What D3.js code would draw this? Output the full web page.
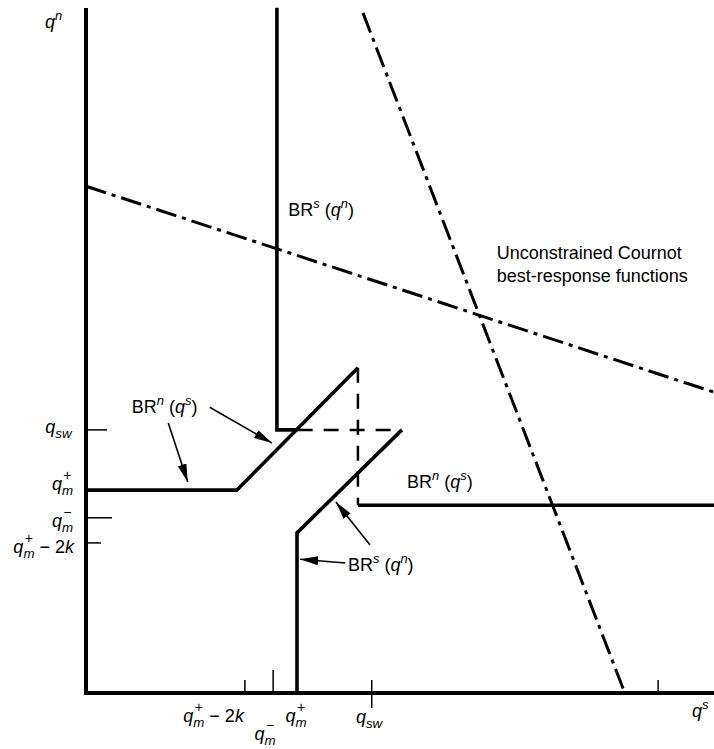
<!DOCTYPE html>
<html>
<head>
<meta charset="utf-8">
<script src="https://cdn.jsdelivr.net/npm/d3@7"></script>
<style>
  body { margin: 0; background: #fff; }
  svg { display: block; }
  text { font-family: "Liberation Sans", Arial, Helvetica, sans-serif; fill: #000; }
</style>
</head>
<body>
<svg id="chart"></svg>
<script>
// quantities, same units on both axes (q^s across, q^n up)
var xTickValues = [25.3, 29.8, 33.6, 45.5, 91.1];
var xTickNames  = ["qm+-2k", "qm-", "qm+", "qsw", ""];
var yTickValues = [41.9, 32.3, 27.9, 23.9];
var yTickNames  = ["qsw", "qm+", "qm-", "qm+-2k"];

// constrained best responses
var brsUpper = [[30.4, 109.1], [30.4, 41.9], [33.7, 41.9]];
var brnLeft  = [[0, 32.3], [24.0, 32.3], [43.3, 51.8]];
var brnRight = [[43.3, 29.9], [100, 29.9]];
var brsLower = [[50.3, 41.9], [33.6, 25.5], [33.6, 0]];
var jumps    = [[[33.7, 41.9], [50.3, 41.9]], [[43.3, 51.8], [43.3, 29.9]]];

// unconstrained cournot best responses
var cournotN = [[0, 80.7], [100, 47.9]];
var cournotS = [[44.1, 108.3], [85.8, 0]];

// pointer arrows (from, to)
var arrows = [
  [[13.1, 43.0], [16.2, 33.6]],
  [[19.7, 45.5], [29.6, 39.8]],
  [[45.2, 23.6], [39.8, 30.4]],
  [[41.3, 20.7], [34.1, 21.3]]
];

var width = 714, height = 749;
var svg = d3.select("#chart").attr("width", width).attr("height", height);

var x = d3.scaleLinear().domain([0, 100]).range([86, 714]);
var y = d3.scaleLinear().domain([0, 109.08]).range([693, 8]);
var line = d3.line().x(function (d) { return x(d[0]); }).y(function (d) { return y(d[1]); });

svg.append("defs").append("marker")
  .attr("id", "head")
  .attr("viewBox", "0 0 18 9")
  .attr("refX", 18).attr("refY", 4.5)
  .attr("markerWidth", 18).attr("markerHeight", 9)
  .attr("markerUnits", "userSpaceOnUse")
  .attr("orient", "auto")
  .append("path").attr("d", "M0,0L18,4.5L0,9Z").attr("fill", "#000");

// label pieces: i = italic, sub/sup, over = sign stacked on previous piece
var rich = {
  "qsw":    [["q", "i"], ["sw", "sub"]],
  "qm+":    [["q", "i"], ["m", "sub"], ["+", "over"]],
  "qm-":    [["q", "i"], ["m", "sub"], ["\u2212", "over"]],
  "qm+-2k": [["q", "i"], ["m", "sub"], ["+", "over"], [" \u2212 2", "n"], ["k", "i"]],
  "qn":     [["q", "i"], ["n", "sup"]],
  "qs":     [["q", "i"], ["s", "sup"]],
  "BRs":    [["BR", "n"], ["s", "sup"], [" (", "n"], ["q", "i"], ["n", "sup"], [")", "n"]],
  "BRn":    [["BR", "n"], ["n", "sup"], [" (", "n"], ["q", "i"], ["s", "sup"], [")", "n"]]
};

function richText(parent, key, px, py, anchor, size) {
  var g = parent.append("g");
  var t = g.append("text").style("font-size", size + "px");
  var shift = 0, prevW = 0, pending = 0;
  rich[key].forEach(function (p) {
    var kind = p[1];
    var s = t.append("tspan").text(p[0]);
    var fs = size, want = 0;
    if (kind == "sub") { fs = size * 0.74; want = 5; }
    if (kind == "sup") { fs = size * 0.72; want = -8; }
    if (kind == "over") { fs = size * 0.78; want = -10; }
    s.style("font-size", fs + "px");
    if (kind != "n" && kind != "over") s.style("font-style", "italic");
    var w = s.node().getComputedTextLength();
    var dx = pending; pending = 0;
    if (kind == "over") { dx += -(prevW + w) / 2; pending = (prevW - w) / 2; }
    if (dx) s.attr("dx", dx);
    if (want - shift) s.attr("dy", want - shift);
    shift = want;
    prevW = w;
  });
  var b = t.node().getBBox();
  var tx = px;
  if (anchor == "end") tx = px - (b.x + b.width);
  if (anchor == "middle") tx = px - (b.x + b.width / 2);
  g.attr("transform", "translate(" + tx + "," + py + ")");
  return g;
}

// cournot lines
[cournotN, cournotS].forEach(function (d) {
  svg.append("path").attr("d", line(d)).attr("fill", "none")
    .attr("stroke", "#000").attr("stroke-width", 3)
    .attr("stroke-dasharray", "21,6,4,6");
});

// jump segments
jumps.forEach(function (d) {
  svg.append("path").attr("d", line(d)).attr("fill", "none")
    .attr("stroke", "#000").attr("stroke-width", 2.5)
    .attr("stroke-dasharray", "15,11");
});

// best responses
[brsUpper, brnLeft, brnRight, brsLower].forEach(function (d) {
  svg.append("path").attr("d", line(d)).attr("fill", "none")
    .attr("stroke", "#000").attr("stroke-width", 3.6)
    .attr("stroke-linejoin", "miter");
});

// axes
svg.append("path").attr("d", line([[0, 109.08], [0, 0], [100, 0]]))
  .attr("fill", "none").attr("stroke", "#000").attr("stroke-width", 4);

// ticks
var xTickUp = [13, 23, 0, 13, 13], xTickDown = [0, 0, 0, 15, 0];
svg.selectAll(".xt").data(xTickValues).enter().append("line")
  .attr("x1", function (d) { return x(d); }).attr("x2", function (d) { return x(d); })
  .attr("y1", function (d, i) { return y(0) - xTickUp[i]; })
  .attr("y2", function (d, i) { return y(0) + xTickDown[i]; })
  .attr("stroke", "#000").attr("stroke-width", 1.5);

var yTickLen = [21, 0, 26, 15];
svg.selectAll(".yt").data(yTickValues).enter().append("line")
  .attr("x1", x(0)).attr("x2", function (d, i) { return x(0) + yTickLen[i]; })
  .attr("y1", function (d) { return y(d); }).attr("y2", function (d) { return y(d); })
  .attr("stroke", "#000").attr("stroke-width", 1.5);

// tick labels
var xLabAnchor = ["end", "middle", "middle", "middle"], xLabDx = [0, -8, -1, -2], xLabY = [722, 740, 722, 723];
xTickNames.forEach(function (n, i) {
  if (!n) return;
  richText(svg, n, x(xTickValues[i]) + xLabDx[i], xLabY[i], xLabAnchor[i], 18);
});
var yLabDy = [3, 0, 9, 10], yLabRight = [73, 73, 73, 75];
yTickNames.forEach(function (n, i) {
  richText(svg, n, yLabRight[i], y(yTickValues[i]) + yLabDy[i], "end", 18);
});

// axis titles
richText(svg, "qn", 45, 28, "start", 18);
richText(svg, "qs", 692, 717, "start", 18);

// curve labels
richText(svg, "BRs", x(32.2), y(76.0), "start", 18);
richText(svg, "BRn", x(7.3), y(44.6), "start", 18);
richText(svg, "BRn", x(51.1), y(32.6), "start", 18);
richText(svg, "BRs", x(41.7), y(19.4), "start", 18);

svg.append("text").attr("x", x(65.4)).attr("y", y(69.1))
  .style("font-size", "18px").text("Unconstrained Cournot");
svg.append("text").attr("x", x(65.4)).attr("y", y(65.4))
  .style("font-size", "18px").text("best-response functions");

// arrows
arrows.forEach(function (a) {
  svg.append("path").attr("d", line(a)).attr("stroke", "#000")
    .attr("stroke-width", 1.6).attr("marker-end", "url(#head)");
});
</script>
</body>
</html>
